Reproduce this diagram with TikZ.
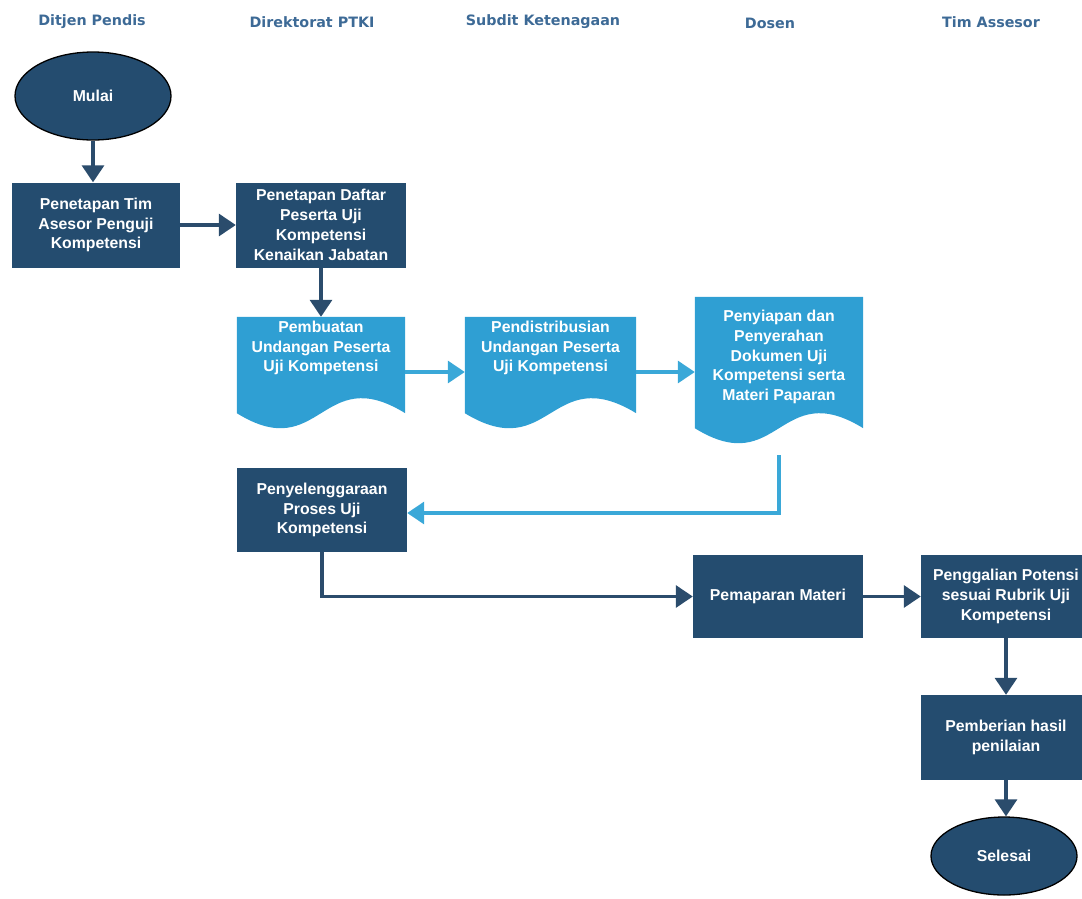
\documentclass[tikz,border=0pt]{standalone}
\usepackage{fontspec}
\setmainfont{Liberation Sans}
\newfontfamily\hdfont{DejaVu Sans}
\usetikzlibrary{arrows.meta,shapes.geometric,calc}
\pgfdeclarelayer{bg}
\pgfsetlayers{bg,main}
\definecolor{boxdark}{HTML}{244C6F}
\definecolor{doclight}{HTML}{2F9FD3}
\definecolor{arrdarkc}{HTML}{2B4C6C}
\definecolor{arrlightc}{HTML}{3AA8D8}
\definecolor{headc}{HTML}{3D6A96}
\begin{document}
\begin{tikzpicture}[x=1pt,y=-1pt,
  boxtext/.style={text=white, font=\bfseries\fontsize{15.8}{19.8}\selectfont, align=center, inner sep=0pt},
  proc/.style={boxtext, fill=boxdark, minimum width=169pt, minimum height=85pt},
  term/.style={boxtext, ellipse, fill=boxdark, draw=black, line width=1.3pt},
  docbox/.style={rectangle, inner sep=0pt},
  docfill/.style={fill=doclight},
  head/.style={text=headc, font=\hdfont\bfseries\fontsize{14.3}{17}\selectfont, inner sep=0pt},
  arrd/.style={draw=arrdarkc, line width=3.2pt, -{Triangle[width=22pt,length=17pt]}},
  arrl/.style={draw=arrlightc, line width=3.2pt, -{Triangle[width=22pt,length=17pt]}}]
\useasboundingbox (0,0) rectangle (1082,898);
% headers
\node[head] (h1) at (92,22) {Ditjen Pendis};
\node[head] (h2) at (312,22) {Direktorat PTKI};
\node[head] (h3) at (543,22) {Subdit Ketenagaan};
\node[head] (h4) at (770,23) {Dosen};
\node[head] (h5) at (991,22) {Tim Assesor};
% nodes
\node[term, minimum width=156pt, minimum height=88pt] (mulai) at (93,96) {Mulai};
\node[proc, minimum width=168pt] (p1) at (96,225) {Penetapan Tim\\Asesor Penguji\\Kompetensi};
\node[proc, minimum width=170pt] (p2) at (321,225) {Penetapan Daftar\\Peserta Uji\\Kompetensi\\Kenaikan Jabatan};
\node[docbox, minimum width=168pt, minimum height=96pt] (d1) at (321,365) {};
\node[docbox, minimum width=171pt, minimum height=96pt] (d2) at (550.5,365) {};
\node[docbox, minimum width=168pt, minimum height=131pt] (d3) at (779,362.5) {};
\node[boxtext] (d1t) at (321,348) {Pembuatan\\Undangan Peserta\\Uji Kompetensi};
\node[boxtext] (d2t) at (550.5,348) {Pendistribusian\\Undangan Peserta\\Uji Kompetensi};
\node[boxtext] (d3t) at (779,357) {Penyiapan dan\\Penyerahan\\Dokumen Uji\\Kompetensi serta\\Materi Paparan};
\begin{pgfonlayer}{bg}
\foreach \d in {d1,d2,d3}{
  \fill[docfill] (\d.north west) -- (\d.north east) -- (\d.south east)
    .. controls ($(\d.south)+(0,-52)$) and ($(\d.south)+(0,52)$) .. (\d.south west) -- cycle;
}
\end{pgfonlayer}
\node[proc, minimum width=170pt, minimum height=84pt] (pen) at (322,510) {Penyelenggaraan\\Proses Uji\\Kompetensi};
\node[proc, minimum width=170pt, minimum height=83pt] (pem) at (778,596.5) {Pemaparan Materi};
\node[proc, minimum width=170pt, minimum height=83pt] (pg) at (1006,596.5) {Penggalian Potensi\\sesuai Rubrik Uji\\Kompetensi};
\node[proc, minimum width=170pt, minimum height=85pt] (pb) at (1006,737.5) {Pemberian hasil\\penilaian};
\node[term, minimum width=146pt, minimum height=78pt] (sel) at (1004,856) {Selesai};
\coordinate (d3out) at (779,455);
% connectors
\draw[arrd] (mulai.south) -- (mulai.south |- p1.north);
\draw[arrd] (p1.east) -- (p2.west);
\draw[arrd] (p2.south) -- (d1.north);
\draw[arrl] ([yshift=-7pt]d1.east) -- ([yshift=-7pt]d1.east -| d2.west);
\draw[arrl] ([yshift=-7pt]d2.east) -- ([yshift=-7pt]d2.east -| d3.west);
\draw[arrl] (d3out) |- ([yshift=-3pt]pen.east);
\draw[arrd] (pen.south) |- (pem.west);
\draw[arrd] (pem.east) -- (pg.west);
\draw[arrd] (pg.south) -- (pb.north);
\draw[arrd] (pb.south) -- (pb.south |- sel.north);
\end{tikzpicture}
\end{document}
